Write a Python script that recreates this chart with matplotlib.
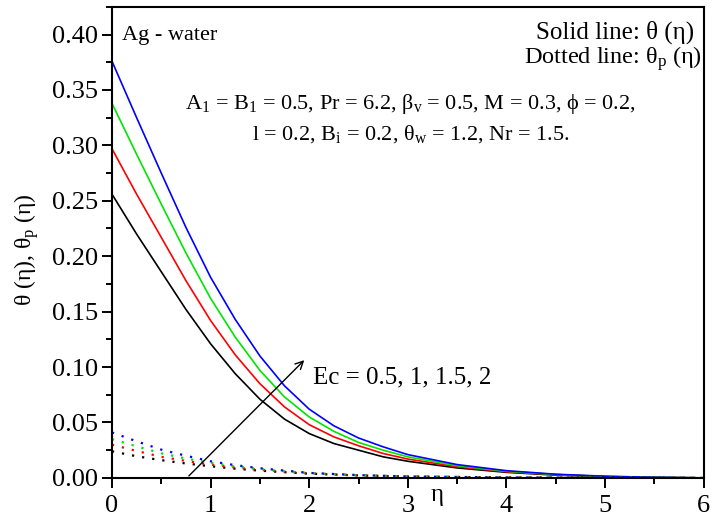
import numpy as np
import matplotlib
matplotlib.use('Agg')
from matplotlib import pyplot as plt
from matplotlib.ticker import MultipleLocator, FormatStrFormatter

plt.rcParams['font.family'] = ['Liberation Serif', 'DejaVu Serif']
plt.rcParams['mathtext.fontset'] = 'custom'
plt.rcParams['mathtext.rm'] = 'Liberation Serif'
plt.rcParams['mathtext.it'] = 'Liberation Serif'
plt.rcParams['mathtext.bf'] = 'Liberation Serif:bold'

# theta(eta), solid lines, Ec = 0.5, 1, 1.5, 2
eta = [0, 0.25, 0.5, 0.75, 1.0, 1.25, 1.5, 1.75, 2.0, 2.25, 2.5, 2.75, 3.0,
       3.5, 4.0, 4.5, 5.0, 5.5, 6.0]
theta_ec05 = [0.256, 0.220, 0.186, 0.152, 0.121, 0.094, 0.071, 0.053, 0.040, 0.031,
              0.025, 0.019, 0.015, 0.009, 0.005, 0.0025, 0.001, 0.0004, 0.0]
theta_ec10 = [0.297, 0.256, 0.217, 0.178, 0.142, 0.111, 0.085, 0.064, 0.048, 0.037,
              0.029, 0.022, 0.017, 0.010, 0.0055, 0.003, 0.0012, 0.0004, 0.0]
theta_ec15 = [0.338, 0.292, 0.247, 0.203, 0.162, 0.127, 0.097, 0.073, 0.055, 0.042,
              0.032, 0.025, 0.019, 0.011, 0.006, 0.003, 0.0013, 0.0005, 0.0]
theta_ec20 = [0.376, 0.325, 0.275, 0.226, 0.181, 0.143, 0.110, 0.083, 0.062, 0.047,
              0.036, 0.028, 0.021, 0.012, 0.0065, 0.0033, 0.0015, 0.0005, 0.0]

# theta_p(eta), dotted lines
eta_p = [0, 0.25, 0.5, 0.75, 1.0, 1.25, 1.5, 2.0, 2.5, 3.0, 4.0, 5.0, 6.0]
thetap_ec05 = [0.024, 0.0195, 0.016, 0.013, 0.0105, 0.0083, 0.0065, 0.0038, 0.0022,
               0.0012, 0.0004, 0.0001, 0.0]
thetap_ec10 = [0.030, 0.0243, 0.019, 0.0153, 0.012, 0.0094, 0.0073, 0.0041, 0.0023,
               0.0013, 0.0004, 0.0001, 0.0]
thetap_ec15 = [0.035, 0.0285, 0.0222, 0.0175, 0.0135, 0.0104, 0.008, 0.0043, 0.0024,
               0.0013, 0.0004, 0.0001, 0.0]
thetap_ec20 = [0.041, 0.033, 0.0255, 0.020, 0.015, 0.0115, 0.0087, 0.0045, 0.0025,
               0.0013, 0.0004, 0.0001, 0.0]

colors = ['black', 'red', '#00e600', 'blue']

fig = plt.figure(figsize=(7.13, 5.24), dpi=100)
ax = fig.add_axes([0.157, 0.088, 0.830, 0.899])

for th, c in zip([theta_ec05, theta_ec10, theta_ec15, theta_ec20], colors):
    ax.plot(eta, th, color=c, lw=1.2)
for th, c in zip([thetap_ec05, thetap_ec10, thetap_ec15, thetap_ec20], colors):
    ax.plot(eta_p, th, color=c, lw=1.6, linestyle=(0, (1, 3.6)))

ax.set_xlim(0, 6)
ax.set_ylim(0, 0.425)
ax.xaxis.set_major_locator(MultipleLocator(1))
ax.xaxis.set_minor_locator(MultipleLocator(0.5))
ax.yaxis.set_major_locator(MultipleLocator(0.05))
ax.yaxis.set_minor_locator(MultipleLocator(0.025))
ax.yaxis.set_major_formatter(FormatStrFormatter('%.2f'))
ax.tick_params(which='both', direction='out', width=1.4, top=False, right=False)
ax.tick_params(which='major', length=7, labelsize=19)
ax.tick_params(axis='x', which='major', pad=5)
ax.tick_params(axis='y', which='major', pad=3)
ax.tick_params(which='minor', length=4)
for s in ax.spines.values():
    s.set_linewidth(1.5)

ax.set_xlabel('η', fontsize=18, va='top')
ax.xaxis.set_label_coords(0.549, -0.012)
ax.set_ylabel('θ (η), θ$_p$ (η)', fontsize=17)
ax.yaxis.set_label_coords(-0.12, 0.485)

ax.text(0.017, 0.94, 'Ag - water', transform=ax.transAxes, fontsize=16,
        ha='left', va='center')
ax.text(0.716, 0.945, 'Solid line: θ (η)', transform=ax.transAxes, fontsize=18,
        ha='left', va='center')
ax.text(0.696, 0.890, 'Dotted line: θ$_p$ (η)', transform=ax.transAxes, fontsize=17.5,
        ha='left', va='center')
ax.text(0.505, 0.794, 'A$_1$ = B$_1$ = 0.5, Pr = 6.2, β$_v$ = 0.5, M = 0.3, ϕ = 0.2,',
        transform=ax.transAxes, fontsize=16, ha='center', va='center')
ax.text(0.505, 0.729, 'l = 0.2, B$_i$ = 0.2, θ$_w$ = 1.2, Nr = 1.5.',
        transform=ax.transAxes, fontsize=16, ha='center', va='center')

ax.annotate('', xy=(1.97, 0.108), xytext=(0.76, 0.0),
            arrowprops=dict(arrowstyle='->', color='black', lw=1.0, mutation_scale=14))
ax.text(0.34, 0.214, 'Ec = 0.5, 1, 1.5, 2', transform=ax.transAxes, fontsize=18,
        ha='left', va='center')

fig.savefig('out.png', dpi=100)
